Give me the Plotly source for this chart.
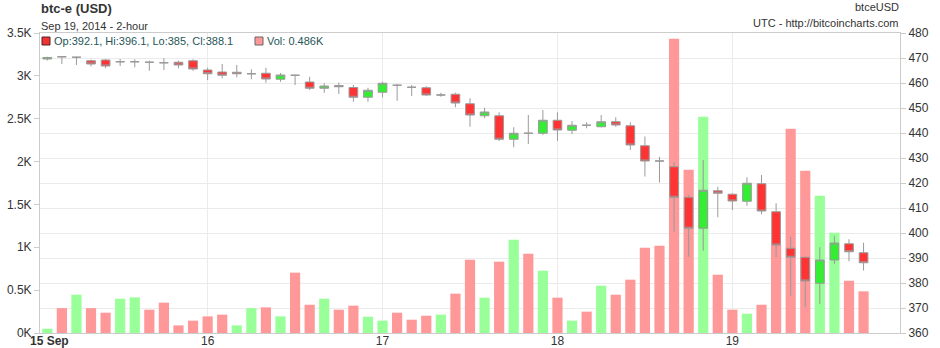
import pandas as pd
import plotly.graph_objects as go

# 2-hour candles, btc-e BTC/USD, 15-19 Sep 2014
open_ = [469.6, 470.5, 470.3, 468.9, 469.2, 468.5, 468.5, 468.3, 468.1, 468.3,
         468.9, 465.2, 464.4, 464.3, 463.7, 463.9, 461.5, 463.1, 460.4, 457.9,
         459.0, 458.2, 454.3, 456.3, 459.1, 458.3, 458.1, 455.2, 455.5, 451.7,
         446.9, 446.9, 437.5, 439.9, 439.9, 445.1, 441.1, 443.1, 442.5, 444.5,
         442.9, 434.9, 428.8, 426.5, 414.3, 401.9, 416.9, 415.5, 412.7, 419.7,
         408.5, 393.9, 390.3, 379.9, 389.2, 395.7, 392.1]
high = [470.5, 470.7, 470.5, 469.4, 469.6, 469.6, 469.5, 468.9, 469.9, 468.9,
        469.5, 466.1, 467.6, 467.2, 465.5, 466.1, 464.0, 463.3, 462.5, 459.9,
        460.2, 459.2, 458.1, 460.5, 459.6, 459.2, 458.7, 456.1, 456.1, 453.9,
        450.1, 448.3, 442.3, 447.2, 449.2, 448.3, 444.8, 444.3, 447.2, 446.3,
        444.3, 438.6, 430.5, 428.5, 415.2, 429.2, 418.5, 415.9, 422.3, 423.2,
        411.9, 398.5, 390.5, 394.3, 398.8, 397.5, 396.1]
low = [469.0, 467.6, 467.2, 466.6, 465.9, 466.8, 466.3, 464.9, 465.2, 465.9,
       464.9, 461.2, 461.9, 462.3, 461.5, 460.1, 460.5, 459.2, 457.2, 456.1,
       455.6, 452.5, 452.5, 454.3, 452.9, 454.8, 454.8, 454.5, 450.3, 442.5,
       445.9, 436.8, 434.3, 435.6, 439.2, 436.8, 439.6, 441.9, 442.3, 442.5,
       433.2, 422.6, 420.2, 400.5, 390.5, 392.9, 406.3, 409.2, 410.9, 407.5,
       390.3, 374.9, 370.3, 371.6, 387.6, 388.7, 385.0]
close = [470.2, 470.5, 470.3, 467.6, 466.8, 468.5, 468.5, 468.3, 468.1, 467.2,
         465.6, 463.7, 463.1, 463.7, 463.7, 461.6, 463.2, 463.1, 457.9, 458.8,
         458.5, 454.3, 457.1, 459.9, 459.1, 458.3, 455.2, 455.2, 452.0, 447.2,
         448.4, 437.5, 439.9, 439.9, 445.1, 441.2, 443.1, 443.1, 444.5, 443.2,
         435.2, 428.8, 428.8, 414.3, 401.9, 417.1, 415.9, 412.8, 419.9, 408.8,
         395.2, 390.3, 380.8, 389.2, 396.0, 392.5, 388.1]
volume = [50, 290, 447, 290, 237, 400, 416, 272, 354, 89,
          144, 194, 214, 89, 290, 299, 194, 704, 330, 400,
          272, 319, 190, 144, 237, 155, 202, 214, 459, 855,
          412, 832, 1089, 925, 727, 412, 144, 249, 552, 447,
          622, 995, 1019, 3434, 1906, 2524, 680, 272, 225, 330,
          1030, 2384, 1894, 1602, 1170, 610, 486]
# 1 = volume bar drawn as "up", 0 = "down"
vol_up = [1, 0, 1, 0, 0, 1, 1, 0, 0, 0,
          0, 0, 0, 1, 1, 0, 1, 0, 0, 1,
          0, 0, 1, 1, 0, 0, 0, 1, 0, 0,
          1, 0, 1, 0, 1, 0, 1, 0, 1, 0,
          0, 0, 0, 0, 0, 1, 0, 0, 1, 0,
          0, 0, 0, 1, 1, 0, 0]

times = pd.date_range("2014-09-15 02:00", periods=len(close), freq="2h")
day_ticks = ["2014-09-16", "2014-09-17", "2014-09-18", "2014-09-19"]
day_labels = ["16", "17", "18", "19"]
vol_ticks = [0, 500, 1000, 1500, 2000, 2500, 3000, 3500]
vol_labels = ["0K", "0.5K", "1K", "1.5K", "2K", "2.5K", "3K", "3.5K"]

FONT = "Liberation Sans, Arial, sans-serif"
UP_VOL, DOWN_VOL = "#99ff99", "#ff9999"

fig = go.Figure()
fig.add_trace(go.Bar(
    x=times, y=volume, yaxis="y",
    marker=dict(color=[UP_VOL if u else DOWN_VOL for u in vol_up], line=dict(width=0)),
    hoverinfo="skip", showlegend=False,
))
fig.add_trace(go.Candlestick(
    x=times, open=open_, high=high, low=low, close=close, yaxis="y2",
    increasing=dict(line=dict(color="#9a9a9a", width=1), fillcolor="#33ee33"),
    decreasing=dict(line=dict(color="#9a9a9a", width=1), fillcolor="#ff3333"),
    whiskerwidth=0, showlegend=False,
))

# single-line readout for the last candle
def fmt(v):
    return f"{v:g}"

last = len(close) - 1
ohlc_text = (f"Op:{fmt(open_[last])}, Hi:{fmt(high[last])}, "
             f"Lo:{fmt(low[last])}, Cl:{fmt(close[last])}")
vol_text = f"Vol: {volume[last] / 1000:.3g}K"

W, H = 940, 348
L, R, T, B = 40, 40, 33, 15
pw, ph = W - L - R, H - T - B

def px(xp):
    return (xp - L) / pw

def py(yp):
    return (H - B - yp) / ph

annotations = [
    dict(text="<b>btc-e (USD)</b>", x=px(40), y=py(9), xanchor="left", yanchor="middle",
         font=dict(size=13, color="#333333", family=FONT)),
    dict(text="Sep 19, 2014 - 2-hour", x=px(40), y=py(25.5), xanchor="left", yanchor="middle",
         font=dict(size=11, color="#333333", family=FONT)),
    dict(text="btceUSD", x=px(900), y=py(7), xanchor="right", yanchor="middle",
         font=dict(size=11, color="#333333", family=FONT)),
    dict(text="UTC - http://bitcoincharts.com", x=px(900), y=py(23.5), xanchor="right",
         yanchor="middle", font=dict(size=11, color="#333333", family=FONT)),
    dict(text=ohlc_text, x=px(52.5), y=py(41), xanchor="left", yanchor="middle",
         font=dict(size=11, color="#1f5656", family=FONT)),
    dict(text=vol_text, x=px(266), y=py(41), xanchor="left", yanchor="middle",
         font=dict(size=11, color="#1f5656", family=FONT)),
    dict(text="<b>15 Sep</b>", x=px(49), y=py(341), xanchor="center", yanchor="middle",
         font=dict(size=12, color="#333333", family=FONT)),
]
for a in annotations:
    a.update(xref="paper", yref="paper", showarrow=False, borderpad=0)

shapes = [
    dict(type="rect", x0=px(42), x1=px(50), y0=py(45), y1=py(37),
         fillcolor="#ee3333", line=dict(color="#552222", width=1)),
    dict(type="rect", x0=px(255), x1=px(263), y0=py(45), y1=py(37),
         fillcolor="#ff9999", line=dict(color="#666666", width=1)),
]
for s in shapes:
    s.update(xref="paper", yref="paper")

fig.update_layout(
    width=W, height=H,
    margin=dict(l=L, r=R, t=T, b=B, pad=0, autoexpand=False),
    paper_bgcolor="white", plot_bgcolor="white",
    font=dict(family=FONT, size=12, color="#333333"),
    bargap=0.3, boxgap=0.15,
    hovermode=False,
    annotations=annotations, shapes=shapes,
    xaxis=dict(
        type="date", range=["2014-09-15 01:00", "2014-09-19 23:00"],
        tickvals=day_ticks, ticktext=day_labels, ticks="",
        showgrid=True, gridcolor="#ebebeb", gridwidth=1,
        showline=True, linecolor="#cccccc", linewidth=1, mirror=True,
        rangeslider=dict(visible=False), tickfont=dict(size=12, color="#333333"),
        fixedrange=True, zeroline=False, automargin=False, ticklabelstandoff=-3,
    ),
    yaxis=dict(
        range=[0, 3500], tickvals=vol_ticks, ticktext=vol_labels,
        ticks="outside", ticklen=5, tickcolor="#cccccc",
        showgrid=False, zeroline=False,
        showline=True, linecolor="#cccccc", linewidth=1,
        tickfont=dict(size=12, color="#333333"), fixedrange=True, automargin=False,
    ),
    yaxis2=dict(
        range=[360, 480], dtick=10, overlaying="y", side="right",
        ticks="outside", ticklen=5, tickcolor="#cccccc",
        showgrid=True, gridcolor="#ebebeb", gridwidth=1, zeroline=False,
        showline=True, linecolor="#cccccc", linewidth=1,
        tickfont=dict(size=12, color="#333333"), fixedrange=True, automargin=False,
    ),
)

fig.write_html("out.html", config=dict(displayModeBar=False, staticPlot=True))
